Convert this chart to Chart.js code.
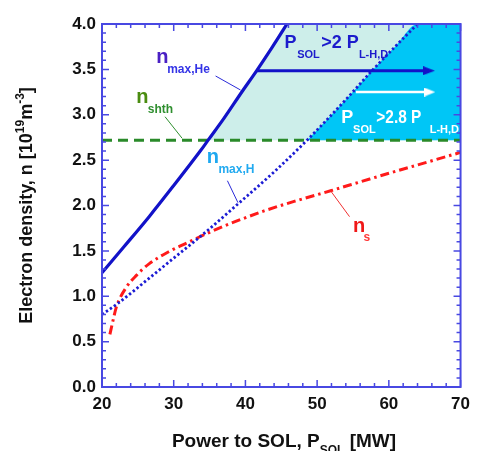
<!DOCTYPE html>
<html>
<head>
<meta charset="utf-8">
<script src="https://cdn.jsdelivr.net/npm/chart.js@4.4.1/dist/chart.umd.min.js"></script>
<style>
  html, body { margin: 0; padding: 0; background: #fff; }
</style>
</head>
<body>
<canvas id="grafica" width="477" height="451"></canvas>
<script>
// Datos
const powerHe = [20, 23, 26.6, 30, 33.7, 34.8, 37, 39.4, 41.6, 43.7, 45.8];
const densHe  = [1.26, 1.54, 1.88, 2.22, 2.6, 2.72, 2.96, 3.24, 3.49, 3.74, 4.0];

const powerH = [20, 22.2, 26.6, 30, 34.8, 39, 44, 48.6, 51.3, 54.5, 57.7, 61, 64];
const densH  = [0.8, 0.92, 1.2, 1.42, 1.73, 2.02, 2.37, 2.72, 2.94, 3.21, 3.49, 3.76, 4.0];

const powerS = [21.1, 21.5, 22, 23.4, 24.8, 26.6, 29.3, 31.5, 33.5, 36, 39, 42.6, 47, 52, 56, 60, 65, 70];
const densS  = [0.58, 0.72, 0.88, 1.1, 1.23, 1.36, 1.49, 1.575, 1.65, 1.74, 1.835, 1.94, 2.05, 2.165, 2.26, 2.355, 2.47, 2.585];

const nShth = 2.72;
const powerRange = [20, 70];
const densRange = [0, 4];

// flechas: [x inicio, x fin, y]
const arrowDark  = [41.6, 65.6, 3.485];
const arrowWhite = [55.4, 65.7, 3.25];

const FONT = "'Liberation Sans', Arial, sans-serif";
const FRAME = '#4848e2';

const toPts = (xs, ys) => xs.map((x, i) => ({x: x, y: ys[i]}));
const lineHe = toPts(powerHe, densHe);
const lineH = toPts(powerH, densH);
const lineS = toPts(powerS, densS);

// bordes de las zonas sombreadas (por encima de n_shth)
const tealEdge = lineHe.filter(p => p.y >= nShth).concat([{x: powerRange[1], y: densRange[1]}]);
const cyanEdge = lineH.filter(p => p.y >= nShth).concat([{x: powerRange[1], y: densRange[1]}]);

// punta de flecha como imagen
function arrowHead(color, len, half) {
    const c = document.createElement('canvas');
    c.width = len; c.height = half * 2;
    const g = c.getContext('2d');
    g.fillStyle = color;
    g.beginPath();
    g.moveTo(0, 0);
    g.lineTo(len, half);
    g.lineTo(0, half * 2);
    g.closePath();
    g.fill();
    return c;
}

// etiquetas: posicion en unidades de datos, partes desplazadas en px
const labels = [
    {x: 27.55, y: 3.57, parts: [
        {t: 'n', size: 20, color: '#4a20c4', dx: 0, dy: 0},
        {t: 'max,He', size: 12, color: '#3434e6', dx: 11, dy: 10}]},
    {x: 24.77, y: 3.126, parts: [
        {t: 'n', size: 20, color: '#4a8c10', dx: 0, dy: 0},
        {t: 'shth', size: 12, color: '#2f8f2f', dx: 11.6, dy: 9.4}]},
    {x: 34.6, y: 2.465, parts: [
        {t: 'n', size: 20, color: '#1ea8f0', dx: 0, dy: 0},
        {t: 'max,H', size: 12, color: '#22aaf0', dx: 11.7, dy: 10}]},
    {x: 54.99, y: 1.711, parts: [
        {t: 'n', size: 20, color: '#f01818', dx: 0, dy: 0},
        {t: 's', size: 12, color: '#ff3a3a', dx: 10.6, dy: 9}]},
    {x: 45.45, y: 3.732, parts: [
        {t: 'P', size: 18, color: '#1c1ccc', dx: 0, dy: 0},
        {t: 'SOL', size: 11, color: '#1c1ccc', dx: 12.7, dy: 10},
        {t: '>2 P', size: 18, color: '#1c1ccc', dx: 36.7, dy: 0},
        {t: 'L-H,D', size: 11, color: '#1c1ccc', dx: 74.4, dy: 10}]},
    {x: 53.38, y: 2.906, parts: [
        {t: 'P', size: 18, color: '#ffffff', dx: 0, dy: 0},
        {t: 'SOL', size: 11, color: '#ffffff', dx: 11.7, dy: 10},
        {t: '>2.8 P', size: 18, color: '#ffffff', dx: 35, dy: 0, w: 45},
        {t: 'L-H,D', size: 11, color: '#ffffff', dx: 88.3, dy: 10}]}
];

// lineas indicadoras [x1, y1, x2, y2, color]
const pointers = [
    [35.84, 3.427, 39.31, 3.273, '#2a2ad8'],
    [28.79, 2.978, 31.17, 2.741, '#2f8f2f'],
    [37.49, 2.273, 38.96, 2.031, '#2a2ad8'],
    [54.52, 1.877, 51.87, 2.163, '#f03030']
];

function drawFlow(ctx, x, y, parts) {
    let total = 0;
    parts.forEach(p => { ctx.font = 'bold ' + p.size + 'px ' + FONT; p.w = ctx.measureText(p.t).width; total += p.w; });
    let cx = x - total / 2;
    parts.forEach(p => {
        ctx.font = 'bold ' + p.size + 'px ' + FONT;
        ctx.fillText(p.t, cx, y + (p.dy || 0));
        cx += p.w;
    });
}

const extras = {
    id: 'extras',
    afterDatasetsDraw(chart) {
        const ctx = chart.ctx;
        const xs = chart.scales.x, ys = chart.scales.y;
        const a = chart.chartArea;
        ctx.save();

        // pointers
        ctx.lineWidth = 1;
        pointers.forEach(p => {
            ctx.strokeStyle = p[4];
            ctx.beginPath();
            ctx.moveTo(xs.getPixelForValue(p[0]), ys.getPixelForValue(p[1]));
            ctx.lineTo(xs.getPixelForValue(p[2]), ys.getPixelForValue(p[3]));
            ctx.stroke();
        });

        // textos dentro del grafico
        ctx.textBaseline = 'alphabetic';
        ctx.textAlign = 'left';
        labels.forEach(l => {
            const bx = xs.getPixelForValue(l.x), by = ys.getPixelForValue(l.y);
            l.parts.forEach(p => {
                ctx.font = 'bold ' + p.size + 'px ' + FONT;
                ctx.fillStyle = p.color;
                if (p.w) ctx.fillText(p.t, bx + p.dx, by + p.dy, p.w);
                else ctx.fillText(p.t, bx + p.dx, by + p.dy);
            });
        });

        // marco y ticks hacia dentro
        ctx.strokeStyle = FRAME;
        ctx.lineWidth = 1.5;
        ctx.beginPath();
        for (let v = powerRange[0]; v <= powerRange[1] + 0.001; v += 2) {
            const px = xs.getPixelForValue(v);
            const len = Math.abs(v % 10) < 0.001 ? 7 : 4;
            ctx.moveTo(px, a.bottom); ctx.lineTo(px, a.bottom - len);
            ctx.moveTo(px, a.top); ctx.lineTo(px, a.top + len);
        }
        for (let i = 0; i <= 40; i++) {
            const py = ys.getPixelForValue(i / 10);
            const len = i % 5 === 0 ? 7 : 4;
            ctx.moveTo(a.left, py); ctx.lineTo(a.left + len, py);
            ctx.moveTo(a.right, py); ctx.lineTo(a.right - len, py);
        }
        ctx.stroke();
        ctx.lineWidth = 2;
        ctx.strokeRect(a.left, a.top, a.right - a.left, a.bottom - a.top);
        ctx.restore();
    },
    afterDraw(chart) {
        const ctx = chart.ctx;
        const a = chart.chartArea;
        ctx.save();
        ctx.fillStyle = '#111';
        ctx.textAlign = 'left';
        ctx.textBaseline = 'alphabetic';
        // titulo eje x
        drawFlow(ctx, 284, 447, [
            {t: 'Power to SOL, P', size: 19},
            {t: 'SOL', size: 12, dy: 7},
            {t: ' [MW]', size: 19}]);
        // titulo eje y
        ctx.translate(32, (a.top + a.bottom) / 2);
        ctx.rotate(-Math.PI / 2);
        drawFlow(ctx, 0, 0, [
            {t: 'Electron density, n [10', size: 18},
            {t: '19', size: 12, dy: -8},
            {t: 'm', size: 18},
            {t: '-3', size: 12, dy: -8},
            {t: ']', size: 18}]);
        ctx.restore();
    }
};

const baseLine = {fill: false, pointRadius: 0, cubicInterpolationMode: 'monotone'};

const ctx = document.getElementById('grafica').getContext('2d');
const grafica = new Chart(ctx, {
    type: 'line',
    data: {
        datasets: [
            Object.assign({}, baseLine, {
                label: 'zona 2 P', data: tealEdge, borderWidth: 0, borderColor: 'rgba(0,0,0,0)',
                backgroundColor: '#cdeeea', fill: {value: nShth}, order: 20
            }),
            Object.assign({}, baseLine, {
                label: 'zona 2.8 P', data: cyanEdge, borderWidth: 0, borderColor: 'rgba(0,0,0,0)',
                backgroundColor: '#00c6f6', fill: {value: nShth}, order: 19
            }),
            Object.assign({}, baseLine, {
                label: 'n_shth', data: [{x: powerRange[0], y: nShth}, {x: powerRange[1], y: nShth}],
                borderColor: '#2a8a2a', borderWidth: 3, borderDash: [10, 6], order: 6
            }),
            Object.assign({}, baseLine, {
                label: 'n_s', data: lineS, borderColor: '#ff1a1a', borderWidth: 3,
                borderDash: [9, 4, 2.5, 4], order: 5
            }),
            Object.assign({}, baseLine, {
                label: 'n_max,H', data: lineH, borderColor: '#1c1cd4', borderWidth: 2.8,
                borderDash: [2.4, 2.4], order: 4
            }),
            Object.assign({}, baseLine, {
                label: 'n_max,He', data: lineHe, borderColor: '#1212c8', borderWidth: 3.2, order: 3
            }),
            Object.assign({}, baseLine, {
                label: 'flecha azul',
                data: [{x: arrowDark[0], y: arrowDark[2]}, {x: arrowDark[1], y: arrowDark[2]}],
                borderColor: '#1212c8', borderWidth: 3, order: 2,
                pointRadius: [0, 6], pointStyle: arrowHead('#1212c8', 12, 4.5)
            }),
            Object.assign({}, baseLine, {
                label: 'flecha blanca',
                data: [{x: arrowWhite[0], y: arrowWhite[2]}, {x: arrowWhite[1], y: arrowWhite[2]}],
                borderColor: '#ffffff', borderWidth: 2.5, order: 1,
                pointRadius: [0, 6], pointStyle: arrowHead('#ffffff', 11, 4.5)
            })
        ]
    },
    options: {
        responsive: false,
        devicePixelRatio: 1,
        animation: false,
        layout: {padding: {top: 24, right: 11, left: 0, bottom: 0}},
        plugins: {legend: {display: false}, tooltip: {enabled: false}},
        scales: {
            x: {
                type: 'linear', min: powerRange[0], max: powerRange[1],
                grid: {display: false, drawTicks: false},
                border: {display: false},
                ticks: {stepSize: 10, padding: 7, color: '#111', font: {family: FONT, size: 17, weight: 'bold'}},
                afterFit: s => { s.height = 64; }
            },
            y: {
                type: 'linear', min: densRange[0], max: densRange[1],
                grid: {display: false, drawTicks: false},
                border: {display: false},
                ticks: {stepSize: 0.5, padding: 6, color: '#111', font: {family: FONT, size: 17, weight: 'bold'},
                        callback: v => v.toFixed(1)},
                afterFit: s => { s.width = 102; }
            }
        }
    },
    plugins: [extras]
});
</script>
</body>
</html>
